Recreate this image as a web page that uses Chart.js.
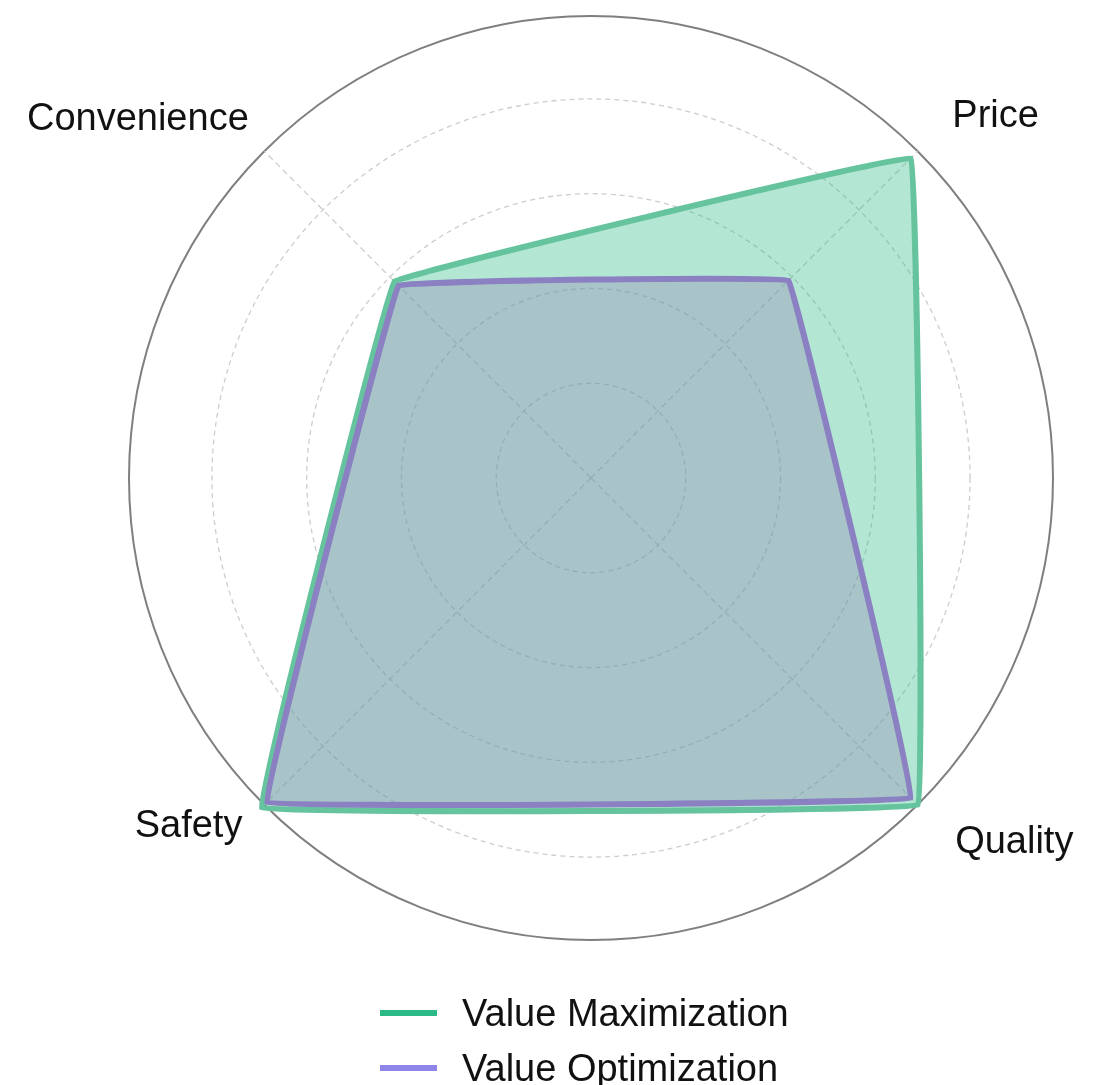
<!DOCTYPE html>
<html>
<head>
<meta charset="utf-8">
<script src="https://cdn.jsdelivr.net/npm/chart.js@4/dist/chart.umd.min.js"></script>
<style>
html,body{margin:0;padding:0;overflow:hidden;background:#fff;}
#wrap{position:relative;width:1109px;height:1085px;overflow:hidden;}
#c{position:absolute;left:0;top:0;}
#legend{position:absolute;left:0;top:0;width:1109px;height:1085px;pointer-events:none;}
.item{position:absolute;left:380px;height:50px;display:flex;align-items:center;}
.sw{width:57px;height:6px;}
.lab{margin-left:25px;font-family:"Liberation Sans",Arial,sans-serif;font-size:38px;color:#111;white-space:nowrap;}
</style>
</head>
<body>
<div id="wrap">
<canvas id="c" width="1182" height="1085"></canvas>
<div id="legend"></div>
</div>
<script>
// ---- data ----
const categories = ['Price', 'Quality', 'Safety', 'Convenience'];
const seriesNames = ['Value Maximization', 'Value Optimization'];
const valueMaximization = [95.4, 97.5, 98.3, 58.6];
const valueOptimization = [58.9, 95.4, 96.7, 57.4];
const ringTicks = [0, 20, 40, 60, 80, 97.5];

// ---- styles ----
const lineColors = ['#65c39e', '#8a80c2'];
const fillColors = ['rgba(43,185,133,0.36)', 'rgba(148,135,182,0.36)'];
const legendColors = ['#2bb985', '#8f85e8'];
const labelPadding = [49, 53, 31, 22];
const labelLineHeight = [0, 0, 0, 0.84];
const lastRing = ringTicks.length - 1;

function seriesStyle(i) {
  return {
    borderColor: lineColors[i],
    backgroundColor: fillColors[i],
    borderWidth: 6,
    borderJoinStyle: 'round',
    tension: 0.022,
    pointRadius: 0,
    pointHoverRadius: 0,
    fill: true,
    order: 1 - i
  };
}

const chart = new Chart(document.getElementById('c'), {
  type: 'radar',
  data: {
    labels: categories,
    datasets: [
      Object.assign({ label: seriesNames[0], data: valueMaximization }, seriesStyle(0)),
      Object.assign({ label: seriesNames[1], data: valueOptimization }, seriesStyle(1))
    ]
  },
  options: {
    responsive: false,
    animation: false,
    devicePixelRatio: 1,
    layout: { padding: { top: 16, bottom: 145, left: 0, right: 0 } },
    plugins: { legend: { display: false }, tooltip: { enabled: false } },
    scales: {
      r: {
        min: 0,
        max: ringTicks[lastRing],
        startAngle: 45,
        afterBuildTicks: (scale) => { scale.ticks = ringTicks.map(v => ({ value: v })); },
        ticks: { display: false },
        grid: {
          circular: true,
          color: (ctx) => ctx.index === lastRing ? '#7f7f7f' : '#cdcdcd',
          lineWidth: (ctx) => ctx.index === lastRing ? 2 : 1.3
        },
        border: {
          dash: (ctx) => ctx.index === lastRing ? [] : [5, 4]
        },
        angleLines: { color: '#cdcdcd', lineWidth: 1.3, borderDash: [6, 4] },
        pointLabels: {
          color: '#111',
          font: (ctx) => ({ family: '"Liberation Sans", Arial, sans-serif', size: 38, lineHeight: labelLineHeight[ctx.index] }),
          padding: (ctx) => labelPadding[ctx.index]
        }
      }
    }
  }
});

// ---- legend (HTML) ----
const legendEl = document.getElementById('legend');
const legendCenters = [1013, 1068];
seriesNames.forEach((name, i) => {
  const item = document.createElement('div');
  item.className = 'item';
  item.style.top = (legendCenters[i] - 25) + 'px';
  const sw = document.createElement('div');
  sw.className = 'sw';
  sw.style.background = legendColors[i];
  const lab = document.createElement('span');
  lab.className = 'lab';
  lab.textContent = name;
  item.appendChild(sw);
  item.appendChild(lab);
  legendEl.appendChild(item);
});
</script>
</body>
</html>
